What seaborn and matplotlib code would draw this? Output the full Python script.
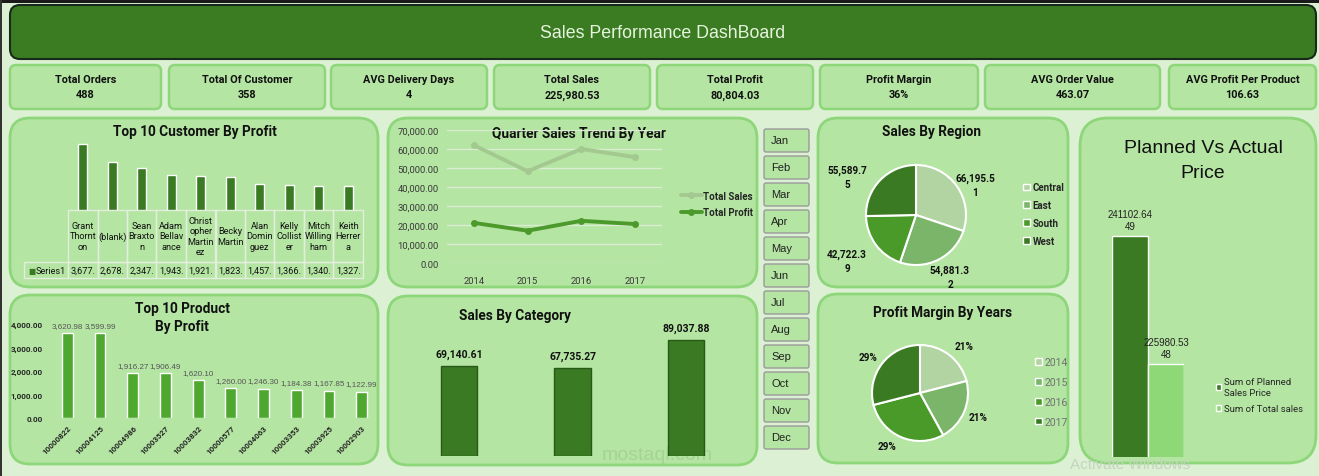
import numpy as np
import pandas as pd
import matplotlib
matplotlib.use('Agg')
import matplotlib.pyplot as plt
import seaborn as sns
from matplotlib.patches import FancyBboxPatch, Rectangle, Patch
from matplotlib.lines import Line2D

# ======================
# DATA
# ======================
kpi_names = ['Total Orders', 'Total Of Customer', 'AVG Delivery Days', 'Total Sales',
             'Total Profit', 'Profit Margin', 'AVG Order Value', 'AVG Profit Per Product']
kpi_values = ['488', '358', '4', '225,980.53', '80,804.03', '36%', '463.07', '106.63']

customers = ['Grant Thornton', '(blank)', 'Sean Braxton', 'Adam Bellavance', 'Christopher Martinez',
             'Becky Martin', 'Alan Dominguez', 'Kelly Collister', 'Mitch Willingham', 'Keith Herrera']
customer_cells = ['Grant\nThornt\non', '(blank)', 'Sean\nBraxto\nn', 'Adam\nBellav\nance',
                  'Christ\nopher\nMartin\nez', 'Becky\nMartin', 'Alan\nDomin\nguez', 'Kelly\nCollist\ner',
                  'Mitch\nWilling\nham', 'Keith\nHerrer\na']
customer_profit = [3677.4, 2678.5, 2347.2, 1943.8, 1921.6, 1823.4, 1457.9, 1366.3, 1340.1, 1327.2]

years = ['2014', '2015', '2016', '2017']
year_sales = [62000, 48300, 60000, 55700]
year_profit = [21100, 17000, 22200, 20500]

regions = ['Central', 'East', 'South', 'West']
region_sales = [66195.51, 54881.32, 42722.39, 55589.75]

products = ['10000822', '10004125', '10004986', '10003527', '10003832',
            '10000577', '10004063', '10003353', '10003925', '10002903']
product_profit = [3620.98, 3599.99, 1916.27, 1906.49, 1620.10,
                  1260.00, 1246.30, 1184.38, 1167.85, 1122.99]

categories = ['Furniture', 'Office Supplies', 'Technology']
category_sales = [69140.61, 67735.27, 89037.88]

margin_years = ['2014', '2015', '2016', '2017']
margin_share = [21, 21, 29, 29]

months = ['Jan', 'Feb', 'Mar', 'Apr', 'May', 'Jun', 'Jul', 'Aug', 'Sep', 'Oct', 'Nov', 'Dec']

pva_names = ['Sum of Planned\nSales Price', 'Sum of Total sales']
pva_values = [241102.6449, 225980.5348]

# ======================
# STYLE
# ======================
W, H = 1319, 477
sns.set_theme(style='white')
plt.rcParams['font.family'] = ['Roboto', 'DejaVu Sans']
ARIAL = ['Liberation Sans', 'DejaVu Sans']

BG = '#dcf1d3'
PANEL = '#b4e5a2'
PANEL_EDGE = '#8ed67a'
DARK = '#3a7a23'
MID = '#4ea72e'
GREENS = ['#b2d3a2', '#7bb56a', '#4a9a2a', '#3a7a23']
TITLE_KW = dict(ha='center', va='center', fontsize=9.8, fontweight='bold', color='#111')


def rect(x0, y0, x1, y1):
    return [x0 / W, 1 - y1 / H, (x1 - x0) / W, (y1 - y0) / H]


fig = plt.figure(figsize=(W / 100, H / 100), dpi=100)
fig.patch.set_facecolor(BG)
bg = fig.add_axes([0, 0, 1, 1])
bg.set_xlim(0, W)
bg.set_ylim(H, 0)
bg.axis('off')


def panel(x0, y0, x1, y1, r=20, fc=PANEL, ec=PANEL_EDGE, lw=2):
    bg.add_patch(FancyBboxPatch((x0, y0), x1 - x0, y1 - y0,
                                boxstyle=f'round,pad=0,rounding_size={r}',
                                fc=fc, ec=ec, lw=lw))


def fpos(x, y):
    return (x / W, 1 - y / H)


# top strip + header
bg.add_patch(Rectangle((0, 0), W, 4, fc='#1a1a1a', ec='none'))
bg.add_patch(Rectangle((0, 0), 1.5, H, fc='#333333', ec='none'))
panel(10, 6, 1316, 60, r=10, fc='#3b7c23', ec='#16291a', lw=1.5)
bg.text(663, 33, 'Sales Performance DashBoard', ha='center', va='center',
        color='#e6f4de', fontsize=12.8, family=ARIAL)

# KPI cards
kpi_x = [(10, 161), (169, 325), (331, 487), (494, 650), (657, 813), (820, 978), (985, 1160), (1169, 1316)]
for (x0, x1), name, val in zip(kpi_x, kpi_names, kpi_values):
    panel(x0, 66, x1, 110, r=6, lw=1.8)
    bg.text((x0 + x1) / 2, 80, name, ha='center', va='center', fontsize=7.8, fontweight='bold', color='#111')
    bg.text((x0 + x1) / 2, 95.5, val, ha='center', va='center', fontsize=7.8, fontweight='bold', color='#111')

# panels
panel(10, 119, 378, 288)
panel(388, 119, 757, 288)
panel(818, 119, 1068, 288)
panel(1080, 119, 1316, 464, r=28)
panel(10, 296, 378, 465)
panel(388, 297, 757, 466)
panel(818, 295, 1068, 464)

# month slicer buttons
for i, m in enumerate(months):
    y0 = 130 + 27 * i
    panel(764, y0, 809, y0 + 23, r=2, fc=PANEL, ec='#9a9a9a', lw=1)
    bg.text(771, y0 + 11.5, m, ha='left', va='center', fontsize=8, color='#222', family=ARIAL)

# ======================
# Top 10 Customer By Profit
# ======================
bg.text(195, 132, 'Top 10 Customer By Profit', **TITLE_KW)
ax = fig.add_axes(rect(68, 140, 363, 211))
sns.barplot(x=customers, y=customer_profit, color=DARK, width=0.3, saturation=1, ax=ax)
ax.set_ylim(0, 3955)
ax.set_xlim(-0.5, 9.5)
ax.axis('off')
cell_vals = [f'{v:,.2f}'[:6] for v in customer_profit]
tbl = ax.table(cellText=[[''] + customer_cells, [''] + cell_vals],
               cellLoc='center', colWidths=[44] + [29.5] * 10,
               bbox=[-44 / 295, -68 / 71, 339 / 295, 68 / 71])
tbl.auto_set_font_size(False)
for (r, c), cell in tbl.get_celld().items():
    cell.set_facecolor('none')
    cell.set_edgecolor('#e4eedf')
    cell.set_linewidth(1)
    cell.set_height(0.76 if r == 0 else 0.24)
    cell.get_text().set_fontsize(6.6)
    cell.get_text().set_color('#111')
    cell.PAD = 0.02
    if r == 0 and c == 0:
        cell.visible_edges = ''
bg.text(28, 271.5, '■', ha='left', va='center', fontsize=5.5, color=DARK, family='DejaVu Sans')
bg.text(36, 271.5, 'Series1', ha='left', va='center', fontsize=6.6, color='#111')

# ======================
# Quarter Sales Trend By Year
# ======================
ax = fig.add_axes(rect(447, 131, 662, 264))
trend = pd.DataFrame({'year': years * 2,
                      'value': year_sales + year_profit,
                      'series': ['Total Sales'] * 4 + ['Total Profit'] * 4})
line_pal = {'Total Sales': '#a3c990', 'Total Profit': '#4b9a2b'}
sns.lineplot(data=trend, x='year', y='value', hue='series', palette=line_pal, marker='o',
             markersize=5, markeredgewidth=0, linewidth=2.8, legend=False, ax=ax)
ax.set_facecolor('none')
ax.set_xlim(-0.5, 3.5)
ax.set_ylim(0, 70000)
ax.set_yticks(np.arange(0, 70001, 10000))
ax.set_yticklabels([f'{v:,.2f}' for v in np.arange(0, 70001, 10000)])
ax.grid(axis='y', color='#dcecd4', lw=1)
ax.set_axisbelow(True)
for s in ax.spines.values():
    s.set_visible(False)
ax.tick_params(length=0, labelsize=6.8, labelcolor='#3a3a3a')
ax.tick_params(axis='x', pad=9)
ax.tick_params(axis='y', pad=6)
ax.set_xlabel('')
ax.set_ylabel('')
handles = [Line2D([], [], color=line_pal[k], lw=2.8, marker='o', markersize=5, markeredgewidth=0)
           for k in ['Total Sales', 'Total Profit']]
fig.legend(handles, ['Total Sales', 'Total Profit'], loc='center left',
           bbox_to_anchor=fpos(672, 205), frameon=False, handlelength=2.2, handletextpad=0.1,
           labelspacing=0.7, prop={'size': 7, 'weight': 'bold'})
bg.text(579, 134, 'Quarter Sales Trend By Year', **TITLE_KW)

# ======================
# Sales By Region
# ======================
bg.text(932, 132, 'Sales By Region', **TITLE_KW)
ax = fig.add_axes(rect(866, 166, 966, 266))
ax.pie(region_sales, colors=GREENS, startangle=90, counterclock=False,
       wedgeprops=dict(edgecolor='white', linewidth=1.5))
ax.set_xlim(-1, 1)
ax.set_ylim(-1, 1)
region_lab_xy = [(1.18, 0.6), (0.68, -1.24), (-1.38, -0.92), (-1.38, 0.76)]
for v, (lx, ly) in zip(region_sales, region_lab_xy):
    s = f'{v:,.2f}'
    ax.text(lx, ly, s[:8] + '\n' + s[8:], ha='center', va='center', fontsize=7.2, fontweight='bold',
            color='#111', linespacing=1.5)
fig.legend([Patch(fc=c, ec='white', lw=1) for c in GREENS], regions, loc='center left',
           bbox_to_anchor=fpos(1014, 215), frameon=False, handlelength=0.7, handleheight=0.7,
           handletextpad=0.3, labelspacing=0.8, prop={'size': 7, 'weight': 'bold'})

# ======================
# Planned Vs Actual Price
# ======================
bg.text(1203, 161, 'Planned Vs Actual\nPrice', ha='center', va='center', fontsize=14, color='#111',
        linespacing=1.55, family=ARIAL)
ax = fig.add_axes(rect(1112, 200, 1184, 458))
sns.barplot(x=pva_names, y=pva_values, hue=pva_names, palette=[DARK, '#8fd878'], width=1.0,
            saturation=1, legend=False, ax=ax)
ax.set_ylim(215000, 245500)
ax.set_xlim(-0.5, 1.5)
ax.axis('off')
for cont, v in zip(ax.containers, pva_values):
    s = f'{v:.4f}'
    ax.bar_label(cont, labels=[s[:9] + '\n' + s[9:]], padding=4, fontsize=7, color='#222', family=ARIAL)
fig.legend([Patch(fc=DARK), Patch(fc='#8fd878')], pva_names, loc='upper left',
           bbox_to_anchor=fpos(1207, 370), frameon=False, handlelength=0.6, handleheight=0.6,
           handletextpad=0.3, labelspacing=0.8, prop={'size': 6.8})

# ======================
# Top 10 Product By Profit
# ======================
bg.text(182, 318, 'Top 10 Product\nBy Profit', linespacing=1.3, **TITLE_KW)
ax = fig.add_axes(rect(51, 325, 378, 419))
sns.barplot(x=products, y=product_profit, color=MID, width=0.33, saturation=1, ax=ax)
ax.set_facecolor('none')
ax.set_ylim(0, 4000)
ax.set_xlim(-0.5, 9.5)
ax.set_yticks(np.arange(0, 4001, 1000))
ax.set_yticklabels([f'{v:,.2f}' for v in np.arange(0, 4001, 1000)])
for s in ax.spines.values():
    s.set_visible(False)
ax.tick_params(length=0, labelsize=5.8)
ax.tick_params(axis='y', pad=6)
ax.tick_params(axis='x', pad=4)
plt.setp(ax.get_yticklabels(), fontweight='bold')
plt.setp(ax.get_xticklabels(), rotation=45, ha='right', rotation_mode='anchor', fontweight='bold')
ax.set_xlabel('')
ax.set_ylabel('')
ax.bar_label(ax.containers[0], fmt='{:,.2f}', padding=3, fontsize=5.8, color='#555', family=ARIAL)

# ======================
# Sales By Category
# ======================
bg.text(515, 316, 'Sales By Category', **TITLE_KW)
ax = fig.add_axes(rect(402, 330, 743, 457))
sns.barplot(x=categories, y=category_sales, color=DARK, width=0.32, saturation=1,
            edgecolor='#285a17', linewidth=1, ax=ax)
ax.set_ylim(0, 97600)
ax.set_xlim(-0.5, 2.5)
ax.axis('off')
ax.bar_label(ax.containers[0], fmt='{:,.2f}', padding=5, fontsize=7.5, fontweight='bold', color='#111')

# ======================
# Profit Margin By Years
# ======================
bg.text(943, 313, 'Profit Margin By Years', **TITLE_KW)
ax = fig.add_axes(rect(872, 346, 968, 442))
ax.pie(margin_share, colors=GREENS, startangle=90, counterclock=False,
       wedgeprops=dict(edgecolor='white', linewidth=1.5))
ax.set_xlim(-1, 1)
ax.set_ylim(-1, 1)
margin_lab_xy = [(0.92, 0.98), (1.22, -0.5), (-0.68, -1.1), (-1.09, 0.75)]
for v, (lx, ly) in zip(margin_share, margin_lab_xy):
    ax.text(lx, ly, f'{v}%', ha='center', va='center', fontsize=7.2, fontweight='bold', color='#111')
fig.legend([Patch(fc=c, ec='white', lw=1) for c in GREENS], margin_years, loc='center left',
           bbox_to_anchor=fpos(1026, 393), frameon=False, handlelength=0.6, handleheight=0.6,
           handletextpad=0.3, labelspacing=0.95, prop={'size': 7.5}, labelcolor='#707070')

# watermarks
bg.text(657, 456, 'mostaql.com', ha='center', va='center', fontsize=14, color='#a2cf91',
        family=ARIAL, alpha=0.8)
bg.text(1130, 465, 'Activate Windows', ha='center', va='center', fontsize=11, color='#c6d3c0',
        family=ARIAL)

fig.savefig('out.png', dpi=100, facecolor=BG)
